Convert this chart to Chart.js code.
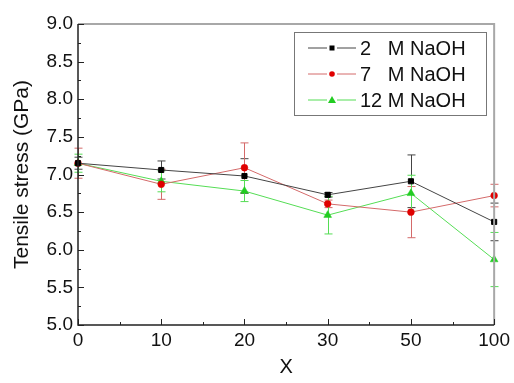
<!DOCTYPE html>
<html>
<head>
<meta charset="utf-8">
<script src="https://cdn.jsdelivr.net/npm/chart.js@4.4.0/dist/chart.umd.min.js"></script>
<style>
  html, body { margin: 0; padding: 0; background: #fff; }
  canvas { display: block; }
</style>
</head>
<body>
<canvas id="chart" width="514" height="383"></canvas>
<script>
// ---- data ----
const xLabels = ['0', '10', '20', '30', '50', '100'];

const naoh2 = [7.15, 7.06, 6.98, 6.73, 6.91, 6.37];
const naoh2Err = [0.08, 0.12, 0.23, 0.03, 0.35, 0.25];

const naoh7 = [7.15, 6.87, 7.09, 6.61, 6.50, 6.72];
const naoh7Err = [0.20, 0.20, 0.33, 0.05, 0.34, 0.15];

const naoh12 = [7.15, 6.91, 6.78, 6.46, 6.75, 5.87];
const naoh12Err = [0.12, 0.14, 0.14, 0.25, 0.24, 0.36];

const seriesNames = ['2   M NaOH', '7   M NaOH', '12 M NaOH'];

const FONT = 'Arial, "Liberation Sans", sans-serif';

// error bars, inward ticks, frame and legend drawn on top of the chart
const extrasPlugin = {
    id: 'extras',
    beforeDatasetsDraw(chart) {
        const ctx = chart.ctx;
        const xs = chart.scales.x, ys = chart.scales.y;
        chart.data.datasets.forEach(ds => {
            ctx.save();
            ctx.strokeStyle = ds.errColor;
            ctx.lineWidth = 1;
            ds.data.forEach((v, i) => {
                const e = ds.errors[i];
                const px = Math.round(xs.getPixelForValue(i)) + 0.5;
                const top = ys.getPixelForValue(v + e);
                const bot = ys.getPixelForValue(v - e);
                ctx.beginPath();
                ctx.moveTo(px, top); ctx.lineTo(px, bot);
                ctx.moveTo(px - 4, top); ctx.lineTo(px + 4, top);
                ctx.moveTo(px - 4, bot); ctx.lineTo(px + 4, bot);
                ctx.stroke();
            });
            ctx.restore();
        });
    },
    afterDraw(chart) {
        const ctx = chart.ctx;
        const a = chart.chartArea;
        const xs = chart.scales.x, ys = chart.scales.y;
        ctx.save();
        // gray frame on top and right
        ctx.strokeStyle = '#a8a8a8';
        ctx.lineWidth = 2;
        ctx.beginPath();
        ctx.moveTo(a.left, a.top); ctx.lineTo(a.right, a.top); ctx.lineTo(a.right, a.bottom);
        ctx.stroke();
        // black axes left and bottom
        ctx.strokeStyle = '#222';
        ctx.lineWidth = 1.5;
        ctx.beginPath();
        ctx.moveTo(a.left, a.top); ctx.lineTo(a.left, a.bottom); ctx.lineTo(a.right, a.bottom);
        ctx.stroke();
        // inward ticks
        ctx.lineWidth = 1;
        ctx.beginPath();
        for (let v = 5; v <= 9.001; v += 0.25) {
            const py = Math.round(ys.getPixelForValue(v)) + 0.5;
            const len = Math.abs(v * 2 - Math.round(v * 2)) < 0.01 ? 6 : 3;
            ctx.moveTo(a.left, py); ctx.lineTo(a.left + len, py);
        }
        for (let i = 0; i < xLabels.length; i++) {
            const px = Math.round(xs.getPixelForValue(i)) + 0.5;
            ctx.moveTo(px, a.bottom); ctx.lineTo(px, a.bottom - 6);
            if (i < xLabels.length - 1) {
                const mx = Math.round((xs.getPixelForValue(i) + xs.getPixelForValue(i + 1)) / 2) + 0.5;
                ctx.moveTo(mx, a.bottom); ctx.lineTo(mx, a.bottom - 3);
            }
        }
        ctx.stroke();

        // legend box
        const lx = 294, ly = 32, lw = 192, lh = 83;
        ctx.fillStyle = '#fff';
        ctx.fillRect(lx, ly, lw, lh);
        ctx.strokeStyle = '#777';
        ctx.lineWidth = 1;
        ctx.strokeRect(lx + 0.5, ly + 0.5, lw, lh);
        chart.data.datasets.forEach((ds, k) => {
            const cy = 48 + k * 26;
            ctx.strokeStyle = ds.borderColor;
            ctx.lineWidth = 1;
            ctx.beginPath();
            ctx.moveTo(308, cy); ctx.lineTo(327, cy);
            ctx.moveTo(337, cy); ctx.lineTo(356, cy);
            ctx.stroke();
            ctx.fillStyle = ds.pointBackgroundColor;
            if (ds.pointStyle === 'rect') {
                ctx.fillRect(329.5, cy - 2.5, 5, 5);
            } else if (ds.pointStyle === 'circle') {
                ctx.beginPath(); ctx.arc(332, cy, 2.8, 0, Math.PI * 2); ctx.fill();
            } else {
                ctx.beginPath();
                ctx.moveTo(332, cy - 4); ctx.lineTo(336, cy + 3); ctx.lineTo(328, cy + 3);
                ctx.closePath(); ctx.fill();
            }
            ctx.fillStyle = '#111';
            ctx.font = '20px ' + FONT;
            ctx.textBaseline = 'middle';
            ctx.fillText(ds.label, 360, cy + 1);
        });
        ctx.restore();
    }
};

new Chart(document.getElementById('chart'), {
    type: 'line',
    data: {
        labels: xLabels,
        datasets: [
            {
                label: seriesNames[0], data: naoh2, errors: naoh2Err,
                borderColor: '#444', errColor: '#444', borderWidth: 1,
                pointStyle: 'rect', pointRadius: 3.6, pointBorderWidth: 1,
                pointBackgroundColor: '#000', pointBorderColor: '#000',
                tension: 0
            },
            {
                label: seriesNames[1], data: naoh7, errors: naoh7Err,
                borderColor: '#d46a6a', errColor: '#d46a6a', borderWidth: 1,
                pointStyle: 'circle', pointRadius: 3.4, pointBorderWidth: 0.5,
                pointBackgroundColor: '#e00000', pointBorderColor: '#e00000',
                tension: 0
            },
            {
                label: seriesNames[2], data: naoh12, errors: naoh12Err,
                borderColor: '#55dd55', errColor: '#55dd55', borderWidth: 1,
                pointStyle: 'triangle', pointRadius: 4.5, pointBorderWidth: 0.5,
                pointBackgroundColor: '#22cc22', pointBorderColor: '#22cc22',
                tension: 0
            }
        ]
    },
    options: {
        responsive: false,
        animation: false,
        layout: { padding: { top: 24, right: 17, left: 6, bottom: 0 } },
        plugins: { legend: { display: false }, tooltip: { enabled: false } },
        scales: {
            x: {
                type: 'category',
                offset: false,
                grid: { display: false, drawTicks: false },
                border: { display: false },
                ticks: { color: '#111', font: { size: 19, family: FONT }, padding: 4, maxRotation: 0 },
                title: { display: true, text: 'X', color: '#111', font: { size: 20, family: FONT }, padding: { top: 8 } },
                afterFit: s => { s.height = 58; }
            },
            y: {
                min: 5, max: 9,
                grid: { display: false, drawTicks: false },
                border: { display: false },
                ticks: {
                    stepSize: 0.5, color: '#111', font: { size: 19, family: FONT }, padding: 5,
                    callback: v => v.toFixed(1)
                },
                title: { display: true, text: 'Tensile stress (GPa)', color: '#111', font: { size: 21, family: FONT }, padding: { bottom: 2 } },
                afterFit: s => { s.width = 72; }
            }
        }
    },
    plugins: [extrasPlugin]
});
</script>
</body>
</html>
